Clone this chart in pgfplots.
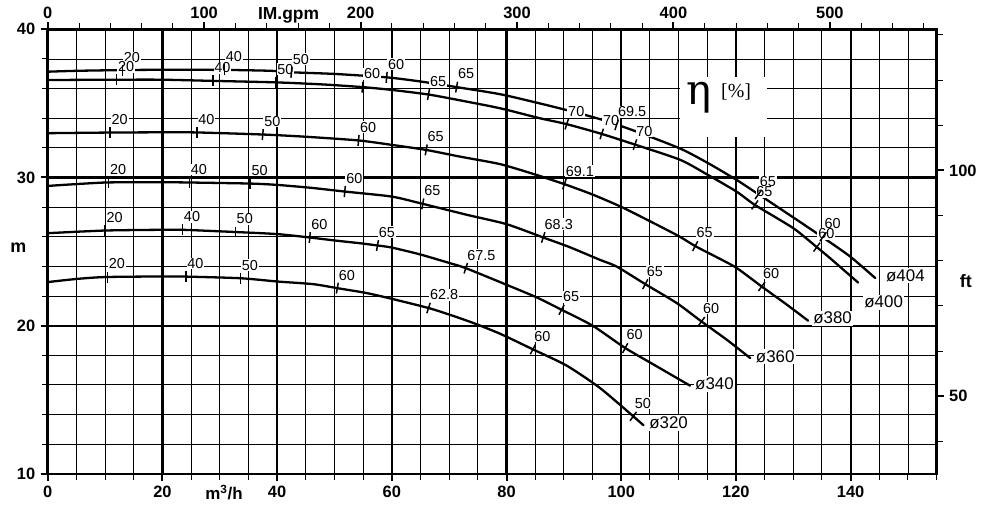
\documentclass[border=0pt]{standalone}
\usepackage{pgfplots}
\pgfplotsset{compat=1.18}
\usepackage{fontspec}
\setmainfont{Liberation Sans}
\newfontfamily\seriffont{Liberation Serif}
\newfontfamily\etafont{DejaVu Serif}
\begin{document}
\begin{tikzpicture}
\pgfplotsset{
  curve/.style={black, line width=2.3bp, line join=round, line cap=round, mark=none, smooth, tension=0.4},
  eff/.style={only marks, mark=|, mark size=5.5bp, black, mark options={line width=1.5bp, rotate=#1}},
  ticklab/.style={font=\fontsize{16.5}{18}\selectfont\bfseries},
}
\begin{axis}[
  scale only axis, width=890bp, height=445bp,
  xmin=0, xmax=155, ymin=10, ymax=40,
  clip=false,
  xtick={0,20,...,140}, minor xtick={5,10,...,155},
  ytick={10,20,30,40}, minor ytick={12,14,...,38},
  grid=both,
  major grid style={black, line width=2.2bp},
  minor grid style={black, line width=0.9bp},
  axis line style={black, line width=2.5bp},
  tick align=outside, xtick pos=left, ytick pos=left,
  major tick length=7bp, minor tick length=6bp,
  major tick style={black, line width=2bp},
  minor tick style={black, line width=1bp},
  tick label style={ticklab},
  /pgf/number format/assume math mode=true,
  xticklabel shift=2bp, yticklabel shift=2bp,
]
% efficiency labels (drawn first, curves on top)
\addplot[draw=none, mark=none, point meta=explicit symbolic, nodes near coords,
  nodes near coords style={font=\fontsize{14.5}{15}\selectfont, fill=white, inner sep=0.8bp,
  anchor=south west, xshift=0.5bp, yshift=7bp, text=black}]
 table[meta=l]{
x y l
13.0 37.22 20
30.8 37.26 40
42.5 37.1 50
59.1 36.76 60
71.3 36.1 65
99.2 33.55 69.5
123.9 28.85 65
135.2 26.0 60
12.0 36.6 20
28.8 36.52 40
39.8 36.42 50
54.9 36.1 60
66.4 35.6 65
90.5 33.6 70
96.6 32.94 70
102.4 32.22 70
123.3 28.15 65
134.1 25.3 60
10.9 33.03 20
26.0 33.04 40
37.5 32.9 50
54.2 32.5 60
66.0 31.86 65
90.1 29.55 69.1
112.9 25.37 65
124.5 22.64 60
10.6 29.66 20
24.7 29.66 40
35.3 29.59 50
51.8 29.05 60
65.4 28.22 65
86.4 25.95 68.3
104.2 22.8 65
114.0 20.28 60
10.0 26.42 20
23.5 26.47 40
32.7 26.32 50
45.7 25.95 60
57.5 25.41 65
72.9 23.88 67.5
89.6 21.07 65
100.7 18.49 60
10.4 23.28 20
24.1 23.31 40
33.6 23.2 50
50.5 22.53 60
66.4 21.19 62.8
84.6 18.4 60
102.1 13.88 50
};
% eta box
\node[fill=white, minimum width=87bp, minimum height=60bp, inner sep=0] at (axis cs:117.8,34.76) {};
\node[anchor=base, inner sep=0, font=\etafont\fontsize{42}{42}\selectfont] at (axis cs:113.6,34.93) {η};
\node[anchor=base west, inner sep=0, font=\seriffont\fontsize{20}{20}\selectfont] at (axis cs:117.4,35.39) {[\%]};
% curves
\addplot[curve] coordinates {(0,37.14) (5,37.2) (13,37.25) (20,37.27) (31,37.26) (39,37.2) (42.5,37.1) (50,36.99) (59.1,36.76) (65,36.48) (71.3,36.1) (78.9,35.62) (85.8,35.0) (92,34.4) (97.5,33.8) (103,33.05) (110.3,31.95) (115,31.0) (120.1,29.84) (124,28.85) (128.9,27.59) (135,26.0) (139.9,24.67) (144.3,23.21)};
\addplot[curve] coordinates {(0,36.58) (12,36.6) (20,36.6) (28.8,36.52) (39.8,36.42) (48,36.28) (54.9,36.1) (60,35.91) (66.4,35.6) (72,35.2) (78.9,34.67) (85.8,34.0) (90.5,33.6) (96.6,32.94) (102.4,32.22) (110.3,31.19) (115,30.2) (120.1,29.05) (123.3,28.15) (130,26.58) (134.1,25.3) (136.4,24.56) (141.3,22.91)};
\addplot[curve] coordinates {(0,32.99) (10,33.03) (20,33.05) (26,33.04) (37.5,32.9) (45,32.75) (54.2,32.5) (60,32.2) (66,31.86) (72,31.4) (78.9,30.9) (85,30.2) (90.1,29.55) (95,28.85) (100.1,28.0) (105,27.05) (110,26.05) (112.9,25.37) (116.5,24.65) (120.1,23.9) (124.5,22.64) (128.9,21.41) (132.6,20.33)};
\addplot[curve] coordinates {(0,29.43) (10,29.66) (20,29.68) (25,29.66) (35.3,29.59) (40,29.5) (46,29.3) (51.8,29.05) (60,28.71) (65.4,28.22) (73.1,27.48) (80,26.85) (86.4,25.95) (91,25.3) (96.3,24.44) (99.2,23.99) (104.2,22.8) (109.7,21.52) (114,20.28) (118.4,19.05) (122.5,17.81)};
\addplot[curve] coordinates {(0,26.24) (10,26.42) (20,26.47) (23.5,26.47) (32.7,26.32) (40,26.18) (45.7,25.95) (50,25.75) (54.5,25.56) (57.5,25.41) (60,25.27) (65,24.8) (70.1,24.22) (72.9,23.88) (80,22.76) (85.3,21.9) (89.6,21.07) (95,20.0) (100.7,18.49) (106.2,17.25) (112,15.95)};
\addplot[curve] coordinates {(0,22.94) (5,23.15) (10,23.28) (20,23.32) (24.1,23.31) (33.6,23.2) (40,22.98) (46.3,22.8) (50.5,22.53) (55.6,22.2) (60,21.81) (66.4,21.19) (70,20.75) (74.2,20.18) (78.9,19.45) (84.6,18.4) (90.5,17.3) (96.3,15.79) (102.1,13.88) (103.9,13.27)};
% efficiency marks
\addplot[eff=0] coordinates {(13.0,37.22) (30.8,37.26) (12.0,36.6) (28.8,36.52) (39.8,36.42) (10.9,33.03) (26.0,33.04) (10.6,29.66) (24.7,29.66) (35.3,29.59) (10.0,26.42) (23.5,26.47) (32.7,26.32) (10.4,23.28) (24.1,23.31) (33.6,23.2)};
\addplot[eff=-5] coordinates {(42.5,37.1) (59.1,36.76) (54.9,36.1) (37.5,32.9) (54.2,32.5) (51.8,29.05) (45.7,25.95)};
\addplot[eff=-10] coordinates {(71.3,36.1) (66.4,35.6) (66.0,31.86) (65.4,28.22) (57.5,25.41) (50.5,22.53)};
\addplot[eff=-18] coordinates {(99.2,33.55) (90.5,33.6) (96.6,32.94) (102.4,32.22) (90.1,29.55) (86.4,25.95) (72.9,23.88) (66.4,21.19)};
\addplot[eff=-28] coordinates {(112.9,25.37) (104.2,22.8) (89.6,21.07) (100.7,18.49) (84.6,18.4)};
\addplot[eff=-36] coordinates {(123.9,28.85) (135.2,26.0) (123.3,28.15) (134.1,25.3) (124.5,22.64) (114.0,20.28) (102.1,13.88)};
% diameter labels
\begin{scope}[every node/.style={anchor=west, fill=white, inner sep=1.5bp, font=\fontsize{17}{18}\selectfont}]
\node at (axis cs:145.9,23.36) {ø404};
\node at (axis cs:142.1,21.59) {ø400};
\node at (axis cs:133.2,20.51) {ø380};
\node at (axis cs:123.2,17.92) {ø360};
\node at (axis cs:112.6,16.06) {ø340};
\node at (axis cs:104.6,13.43) {ø320};
\end{scope}
% axis titles
\node[anchor=base, inner sep=0, font=\fontsize{18}{18}\selectfont\bfseries] at (axis cs:-5.12,24.92) {m};
\node[anchor=base, inner sep=0, font=\fontsize{18}{18}\selectfont\bfseries] at (axis cs:160.1,22.56) {ft};
\node[anchor=base, inner sep=0, font=\fontsize{17}{18}\selectfont\bfseries] at (axis cs:30.74,8.26) {m\textsuperscript{3}/h};
\node[anchor=base, inner sep=0, font=\fontsize{17.5}{18}\selectfont\bfseries] at (axis cs:42.0,40.63) {IM.gpm};
% page frame
\path (axis cs:-8.32,7.11) rectangle (axis cs:166.05,41.98);
\end{axis}
\begin{axis}[
  scale only axis, width=890bp, height=445bp,
  xmin=0, xmax=568.25, ymin=32.8084, ymax=131.2336,
  axis x line*=top, axis y line*=right,
  xtick={0,100,...,500}, minor xtick={20,40,...,560},
  ytick={50,100}, minor ytick={40,60,70,80,90,110,120,130},
  axis line style={black, line width=2.5bp},
  tick align=outside,
  major tick length=7bp, minor tick length=6bp,
  major tick style={black, line width=2bp},
  minor tick style={black, line width=1bp},
  tick label style={ticklab},
  /pgf/number format/assume math mode=true,
  xticklabel shift=0bp, yticklabel shift=2bp,
]
\end{axis}
\end{tikzpicture}
\end{document}
